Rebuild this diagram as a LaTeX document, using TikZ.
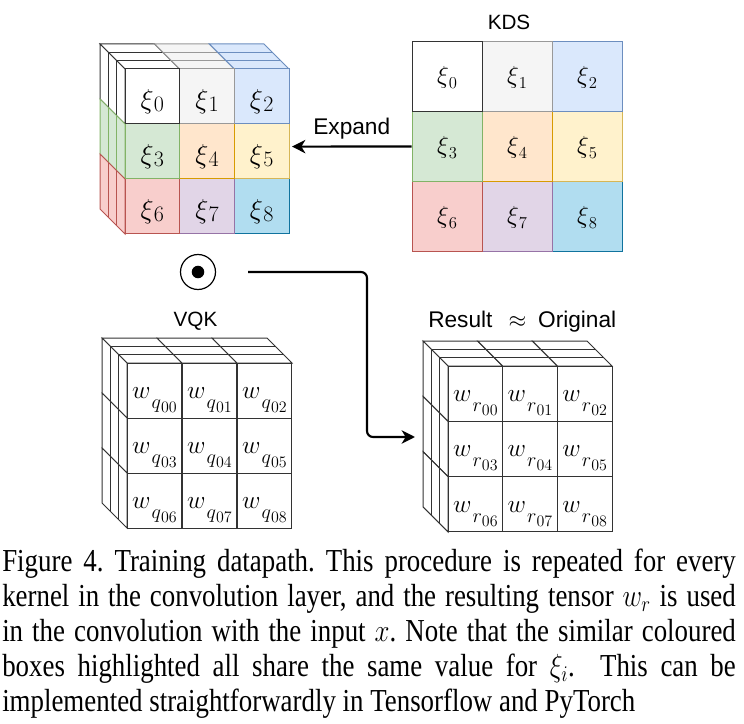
\RequirePackage{fix-cm}
\documentclass[tikz,border=0pt]{standalone}
\usepackage{graphicx}
\usepackage{fontspec}
\newfontfamily\capfont{Liberation Serif}
\newfontfamily\sansf{Liberation Sans}
\usetikzlibrary{arrows.meta}
\definecolor{f0}{HTML}{FFFFFF}\definecolor{s0}{HTML}{333333}
\definecolor{f1}{HTML}{F5F5F5}\definecolor{s1}{HTML}{999999}
\definecolor{f2}{HTML}{DAE8FC}\definecolor{s2}{HTML}{6C8EBF}
\definecolor{f3}{HTML}{D5E8D4}\definecolor{s3}{HTML}{82B366}
\definecolor{f4}{HTML}{FFE6CC}\definecolor{s4}{HTML}{D79B00}
\definecolor{f5}{HTML}{FFF2CC}\definecolor{s5}{HTML}{D6B656}
\definecolor{f6}{HTML}{F8CECC}\definecolor{s6}{HTML}{B85450}
\definecolor{f7}{HTML}{E1D5E7}\definecolor{s7}{HTML}{9673A6}
\definecolor{f8}{HTML}{B1DDF0}\definecolor{s8}{HTML}{10739E}
\newcommand\xik[1]{{\fontsize{18.5}{18.5}\selectfont$\xi$}\raisebox{-3.7pt}{\fontsize{12.5}{12.5}\selectfont #1}}
\newcommand\xil[1]{{\fontsize{20.5}{20.5}\selectfont$\xi$}\kern0.3pt\raisebox{-2.5pt}{\fontsize{16.5}{16.5}\selectfont #1}}
\newcommand\wlab[3]{{\fontsize{19}{19}\selectfont$#1$}\kern0.8pt\raisebox{-7.5pt}{\fontsize{15}{15}\selectfont$#2$\raisebox{-3pt}{\fontsize{12}{12}\selectfont #3}}}
\newcommand\cubefaces[5]{%
  \foreach \j in {0,1,2}{%
    \pgfmathsetmacro\xa{#1+\j*#3}\pgfmathsetmacro\xb{#1+(\j+1)*#3}%
    \pgfmathtruncatemacro\ci{\j*#5}%
    \filldraw[fill=f\ci,draw=s\ci,cubeline] (\xa,#2) -- (\xb,#2) -- (\xb-25,#2-25) -- (\xa-25,#2-25) -- cycle;
    \foreach \d in {8.33,16.67}{\draw[s\ci,cubeline] (\xa-\d,#2-\d) -- (\xb-\d,#2-\d);}
  }%
  \foreach \i in {0,1,2}{%
    \pgfmathsetmacro\ya{#2+\i*#4}\pgfmathsetmacro\yb{#2+(\i+1)*#4}%
    \pgfmathtruncatemacro\ci{3*\i*#5}%
    \filldraw[fill=f\ci,draw=s\ci,cubeline] (#1,\ya) -- (#1,\yb) -- (#1-25,\yb-25) -- (#1-25,\ya-25) -- cycle;
    \foreach \d in {8.33,16.67}{\draw[s\ci,cubeline] (#1-\d,\ya-\d) -- (#1-\d,\yb-\d);}
  }}
\begin{document}
\begin{tikzpicture}[x=0.75pt,y=-0.75pt,
  cubeline/.style={line width=0.75pt},
  kc/.style={rectangle,draw=s#1,fill=f#1,cubeline,minimum width=52.5pt,minimum height=52.25pt,inner sep=0pt,text height=11.4pt,text depth=0.6pt},
  lc/.style={rectangle,draw=s#1,fill=f#1,cubeline,minimum width=41pt,minimum height=41.25pt,inner sep=0pt,text height=18pt,text depth=0.4pt},
  wc/.style={rectangle,draw=s0,fill=white,cubeline,minimum width=41pt,minimum height=41.25pt,inner sep=0pt,text height=12pt,text depth=0.3pt},
  title/.style={font=\sansf\fontsize{15.5}{15.5}\selectfont,inner sep=0pt,anchor=base},
  arr/.style={line width=1.6pt,-{Stealth[length=10pt,width=10pt,inset=3pt]}}]
\useasboundingbox (0,0) rectangle (744,724);
% KDS grid
\node[title] (kds) at (509,29.3) {KDS};
\foreach \i in {8,7,...,0}{%
  \pgfmathtruncatemacro\rr{\i/3}\pgfmathtruncatemacro\cc{\i-3*\rr}%
  \node[kc=\i] (k\i) at ({447+70*\cc},{76.8+69.7*\rr}) {\xik{\i}};
}
% expanded coloured cube
\cubefaces{125}{69}{54.67}{55}{1}
\foreach \i in {8,7,...,0}{%
  \pgfmathtruncatemacro\rr{\i/3}\pgfmathtruncatemacro\cc{\i-3*\rr}%
  \node[lc=\i] (lc\i) at ({125+54.67*(\cc+0.5)},{69+55*(\rr+0.5)}) {\xil{\i}};
}
\coordinate (lcin) at (292,146.6);
\draw[arr] (k3.west) -- node[above=5pt,font=\sansf\fontsize{17}{17}\selectfont,inner sep=0pt] (expand) {Expand} (lcin);
% odot
\node[circle,draw,line width=0.9pt,minimum size=26.25pt,inner sep=0pt] (odot) at (198,272) {};
\node[circle,fill,minimum size=9.4pt,inner sep=0pt] (odotc) at (odot.center) {};
% VQK cube
\node[title] (vqk) at (195.5,326.7) {VQK};
\cubefaces{127}{363}{55}{55}{0}
\foreach \i in {8,7,...,0}{%
  \pgfmathtruncatemacro\rr{\i/3}\pgfmathtruncatemacro\cc{\i-3*\rr}%
  \node[wc] (q\i) at ({127+55*(\cc+0.5)},{363+55*(\rr+0.5)}) {\wlab{w}{q}{0\i}};
}
% Result cube
\node[inner sep=0pt,anchor=base west] (res) at (428,327) {\fontsize{17}{17}\selectfont{\sansf Result}\hspace{12pt}$\approx$\hspace{9pt}{\sansf Original}};
\cubefaces{448}{366}{54.67}{55.3}{0}
\foreach \i in {8,7,...,0}{%
  \pgfmathtruncatemacro\rr{\i/3}\pgfmathtruncatemacro\cc{\i-3*\rr}%
  \node[wc] (r\i) at ({448+54.67*(\cc+0.5)},{366+55.3*(\rr+0.5)}) {\wlab{w}{r}{0\i}};
}
\coordinate (ostart) at (248,272);
\coordinate (rin) at (415,437);
\draw[arr,rounded corners=4.5pt] (ostart) -- (367,272) |- (rin);
% caption
\node[anchor=base west,inner sep=0pt] (cap) at (2,571.7)
 {\scalebox{0.84}[1]{\parbox[t]{655pt}{\capfont\fontsize{24}{26.2}\selectfont\frenchspacing
 Figure 4. Training datapath. This procedure is repeated for every\linebreak
 kernel in the convolution layer, and the resulting tensor $w_r$ is used\linebreak
 in the convolution with the input $x$. Note that the similar coloured\linebreak
 boxes highlighted all share the same value for $\xi_i$.\ \ This can be\linebreak
 implemented straightforwardly in Tensorflow and PyTorch}}};
\end{tikzpicture}
\end{document}
